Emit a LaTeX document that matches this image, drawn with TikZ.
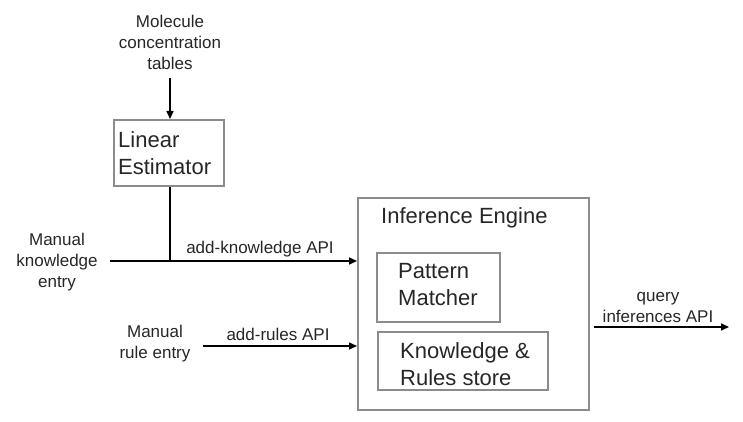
\documentclass[tikz,border=0pt]{standalone}
\usepackage{fontspec}
\setmainfont{Liberation Sans}
\usetikzlibrary{arrows.meta}
\begin{document}
\begin{tikzpicture}[x=1pt,y=-1pt,
  box/.style={draw=black!45,line width=1.6pt},
  big/.style={font=\fontsize{22}{27}\selectfont,align=left,inner sep=0pt,anchor=base west,text=black!85},
  small/.style={font=\fontsize{17}{21}\selectfont,align=center,inner sep=0pt,anchor=base,text=black!85},
  arr/.style={line width=1.6pt,-{Triangle[length=8pt,width=7pt]}},
  ln/.style={line width=1.6pt}]
\useasboundingbox (0,0) rectangle (743,422);
% boxes
\node[box,minimum width=110pt,minimum height=66pt,anchor=north west] (le) at (113,119) {};
\node[big] (let) at (118,175) {Linear\\Estimator};
\node[box,minimum width=231pt,minimum height=212pt,anchor=north west] (ie) at (357,197) {};
\node[big] (iet) at (381,223) {Inference Engine};
\node[box,minimum width=123pt,minimum height=69pt,anchor=north west] (pm) at (376,252) {};
\node[big] (pmt) at (398,305) {Pattern\\Matcher};
\node[box,minimum width=170pt,minimum height=58pt,anchor=north west] (kr) at (377,331) {};
\node[big] (krt) at (400,385) {Knowledge \&\\Rules store};
% texts
\node[small] (mol) at (170,70) {Molecule\\concentration\\tables};
\node[small] (mke) at (57,287) {Manual\\knowledge\\entry};
\node[small] (mre) at (155,358) {Manual\\rule entry};
\node[small] (qia) at (658,322) {query\\inferences API};
\node[small] (aka) at (260,253) {add-knowledge API};
\node[small] (ara) at (278,340) {add-rules API};
% connectors
\coordinate (molb) at (170,78);
\coordinate (kst) at (110,261);
\coordinate (kj) at (170,261);
\coordinate (rst) at (203,346);
\coordinate (qe) at (729,327);
\draw[arr] (molb) -- (le.north -| molb);
\draw[ln] (le.south -| kj) -- (kj);
\draw[arr] (kst) -- (ie.west |- kst);
\draw[arr] (rst) -- (ie.west |- rst);
\draw[arr] (ie.east |- qe) ++(4,0) -- (qe);
\end{tikzpicture}
\end{document}
